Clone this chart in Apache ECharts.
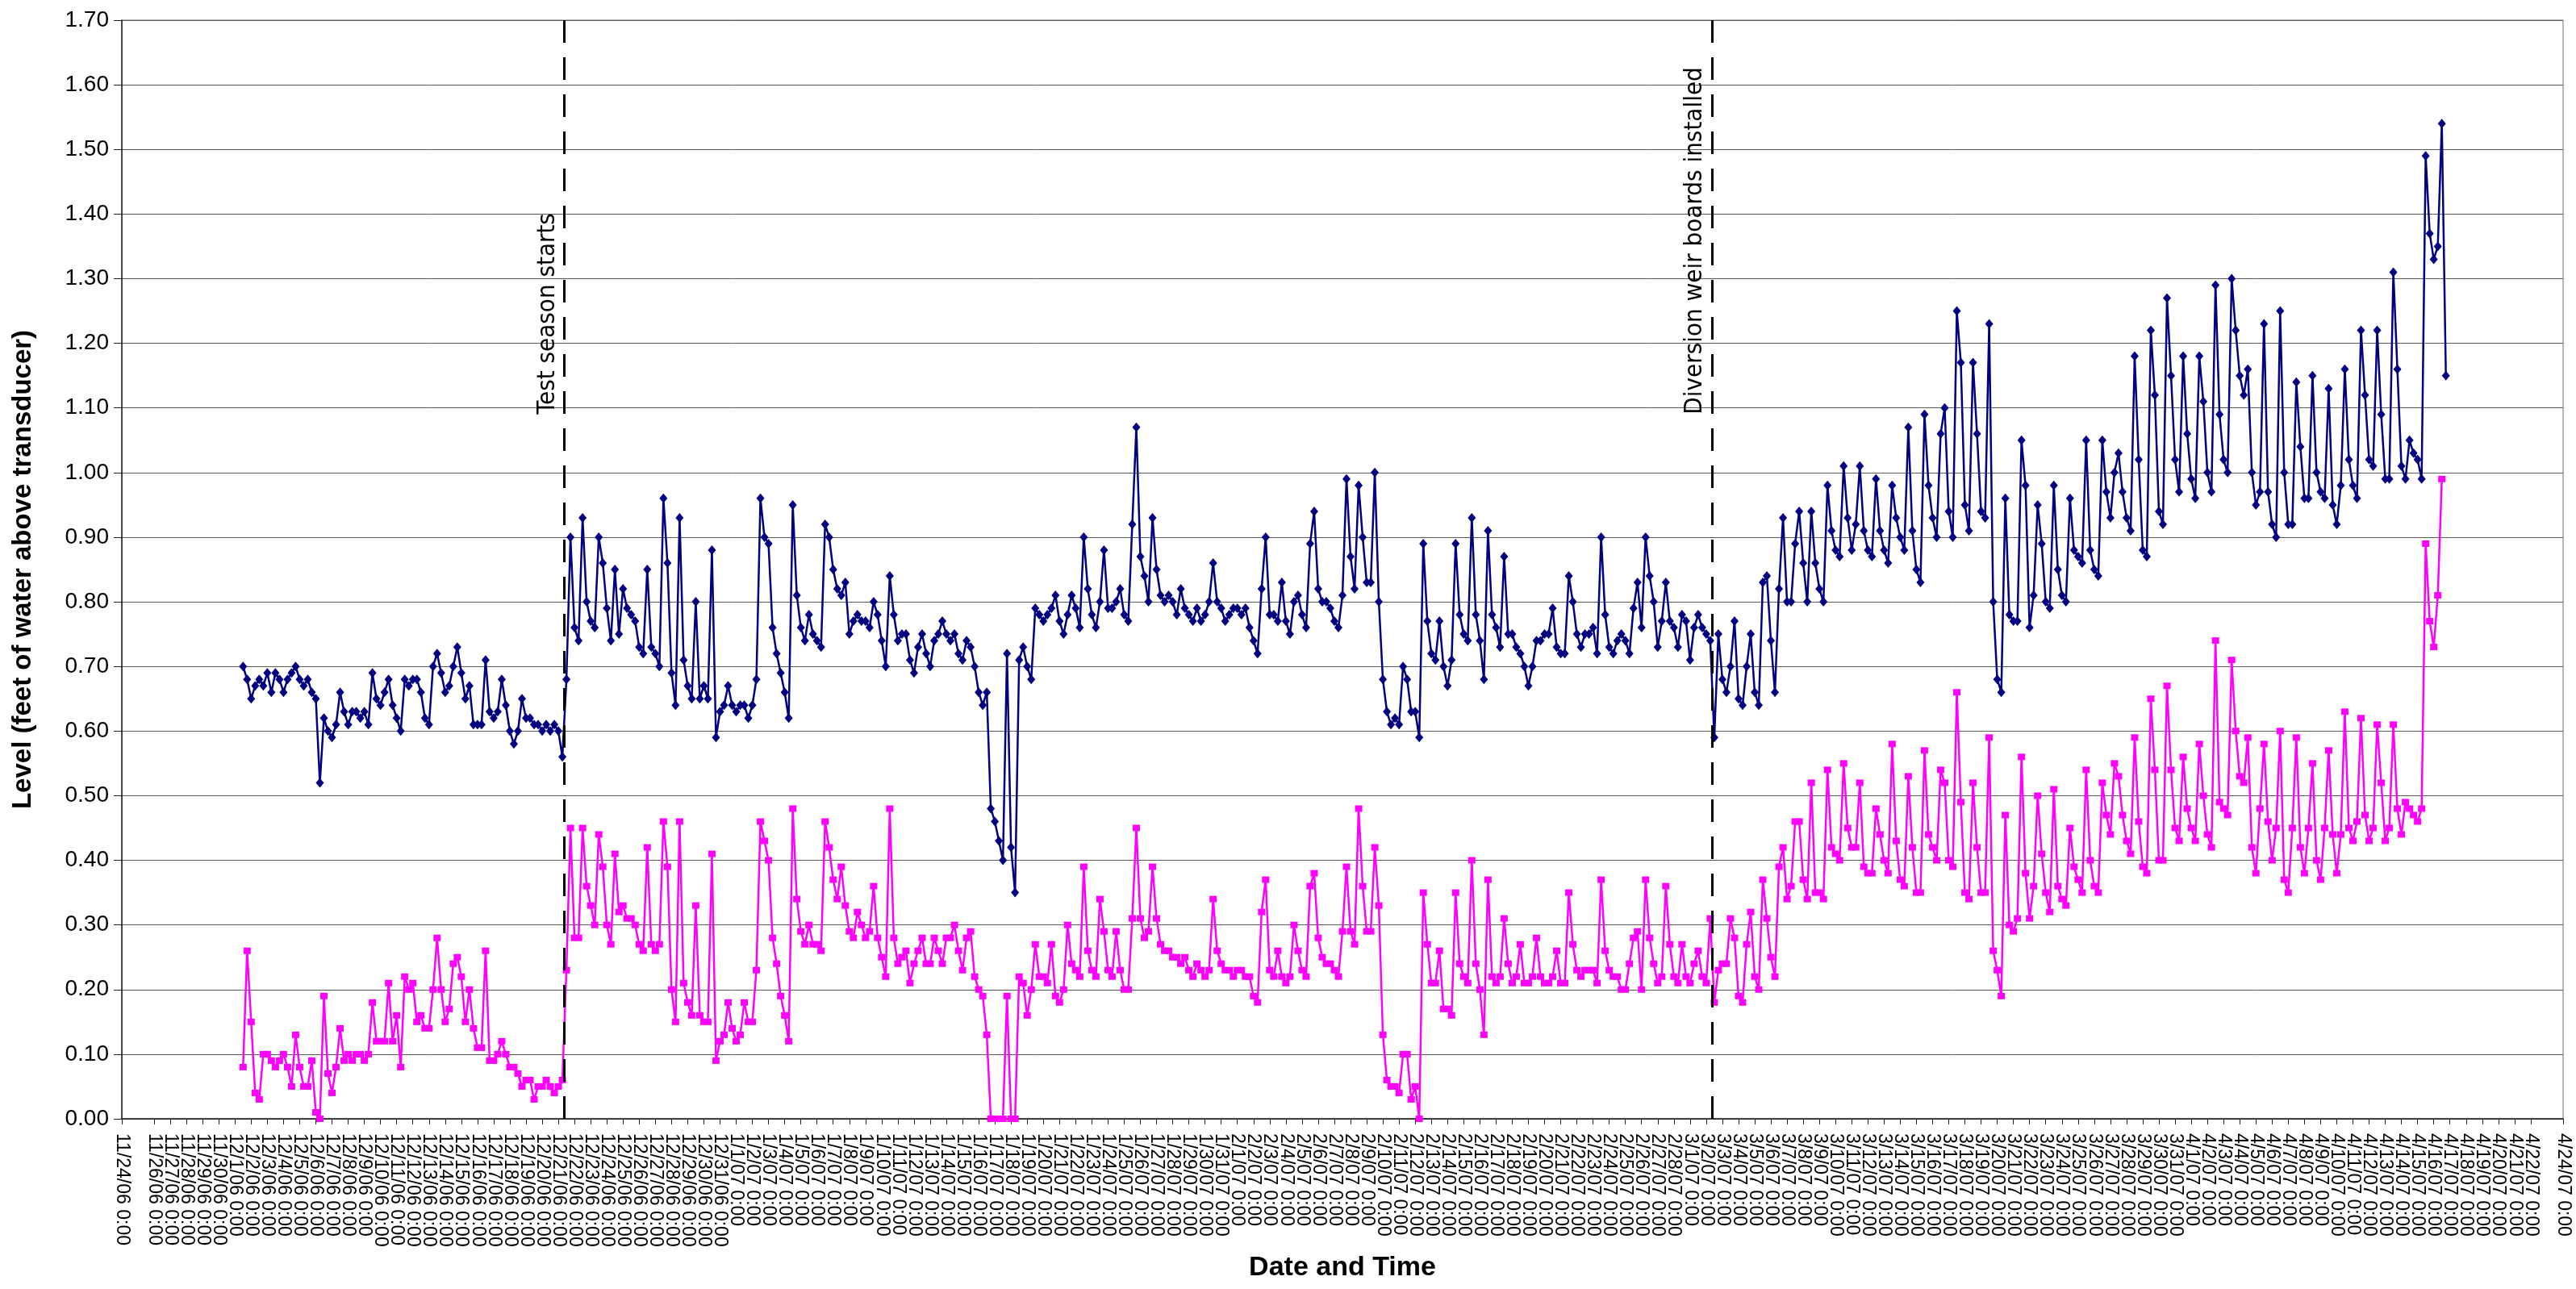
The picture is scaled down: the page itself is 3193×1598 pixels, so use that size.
<!DOCTYPE html>
<html>
<head>
<meta charset="utf-8">
<script src="https://cdn.jsdelivr.net/npm/echarts@6/dist/echarts.min.js"></script>
<style>
  html, body { margin: 0; padding: 0; background: #ffffff; }
  #chart { width: 3193px; height: 1598px; }
</style>
</head>
<body>
<div id="chart"></div>
<script>
// Time axis: one tick per day from 11/24/06 0:00 to 4/24/07 0:00
const axisStartDate = [2006, 10, 24];   // year, month (0-based), day
const axisDayCount = 151;

// Readings every 6 hours, first reading at 12/1/06 12:00 (day 7.5 of the axis)
const readingsStartDay = 7.5;
const readingStepDays = 0.25;

// Level, feet of water above transducer (navy series)
const upperLevel = [
  0.70,0.68,
  0.65,0.67,0.68,0.67, 0.69,0.66,0.69,0.68, 0.66,0.68,0.69,0.70, 0.68,0.67,0.68,0.66,
  0.65,0.52,0.62,0.60, 0.59,0.61,0.66,0.63, 0.61,0.63,0.63,0.62, 0.63,0.61,0.69,0.65,
  0.64,0.66,0.68,0.64, 0.62,0.60,0.68,0.67, 0.68,0.68,0.66,0.62, 0.61,0.70,0.72,0.69,
  0.66,0.67,0.70,0.73, 0.69,0.65,0.67,0.61, 0.61,0.61,0.71,0.63, 0.62,0.63,0.68,0.64,
  0.60,0.58,0.60,0.65, 0.62,0.62,0.61,0.61, 0.60,0.61,0.60,0.61, 0.60,0.56,0.68,0.90,
  0.76,0.74,0.93,0.80, 0.77,0.76,0.90,0.86, 0.79,0.74,0.85,0.75, 0.82,0.79,0.78,0.77,
  0.73,0.72,0.85,0.73, 0.72,0.70,0.96,0.86,
  0.69,0.64,0.93,0.71, 0.67,0.65,0.80,0.65, 0.67,0.65,0.88,0.59, 0.63,0.64,0.67,0.64,
  0.63,0.64,0.64,0.62, 0.64,0.68,0.96,0.90, 0.89,0.76,0.72,0.69, 0.66,0.62,0.95,0.81,
  0.76,0.74,0.78,0.75, 0.74,0.73,0.92,0.90, 0.85,0.82,0.81,0.83, 0.75,0.77,0.78,0.77,
  0.77,0.76,0.80,0.78, 0.74,0.70,0.84,0.78,
  0.74,0.75,0.75,0.71, 0.69,0.73,0.75,0.72, 0.70,0.74,0.75,0.77, 0.75,0.74,0.75,0.72,
  0.71,0.74,0.73,0.70, 0.66,0.64,0.66,0.48, 0.46,0.43,0.40,0.72, 0.42,0.35,0.71,0.73,
  0.70,0.68,0.79,0.78, 0.77,0.78,0.79,0.81, 0.77,0.75,0.78,0.81, 0.79,0.76,0.90,0.82,
  0.78,0.76,0.80,0.88, 0.79,0.79,0.80,0.82,
  0.78,0.77,0.92,1.07, 0.87,0.84,0.80,0.93, 0.85,0.81,0.80,0.81, 0.80,0.78,0.82,0.79,
  0.78,0.77,0.79,0.77, 0.78,0.80,0.86,0.80, 0.79,0.77,0.78,0.79, 0.79,0.78,0.79,0.76,
  0.74,0.72,0.82,0.90, 0.78,0.78,0.77,0.83, 0.77,0.75,0.80,0.81, 0.78,0.76,0.89,0.94,
  0.82,0.80,0.80,0.79, 0.77,0.76,0.81,0.99,
  0.87,0.82,0.98,0.90, 0.83,0.83,1.00,0.80, 0.68,0.63,0.61,0.62, 0.61,0.70,0.68,0.63,
  0.63,0.59,0.89,0.77, 0.72,0.71,0.77,0.70, 0.67,0.71,0.89,0.78, 0.75,0.74,0.93,0.78,
  0.74,0.68,0.91,0.78, 0.76,0.73,0.87,0.75, 0.75,0.73,0.72,0.70, 0.67,0.70,0.74,0.74,
  0.75,0.75,0.79,0.73, 0.72,0.72,0.84,0.80,
  0.75,0.73,0.75,0.75, 0.76,0.72,0.90,0.78, 0.73,0.72,0.74,0.75, 0.74,0.72,0.79,0.83,
  0.76,0.90,0.84,0.80, 0.73,0.77,0.83,0.77, 0.76,0.73,0.78,0.77, 0.71,0.76,0.78,0.76,
  0.75,0.74,0.59,0.75, 0.68,0.66,0.70,0.77, 0.65,0.64,0.70,0.75, 0.66,0.64,0.83,0.84,
  0.74,0.66,0.82,0.93, 0.80,0.80,0.89,0.94,
  0.86,0.80,0.94,0.86, 0.82,0.80,0.98,0.91, 0.88,0.87,1.01,0.93, 0.88,0.92,1.01,0.91,
  0.88,0.87,0.99,0.91, 0.88,0.86,0.98,0.93, 0.90,0.88,1.07,0.91, 0.85,0.83,1.09,0.98,
  0.93,0.90,1.06,1.10, 0.94,0.90,1.25,1.17, 0.95,0.91,1.17,1.06, 0.94,0.93,1.23,0.80,
  0.68,0.66,0.96,0.78, 0.77,0.77,1.05,0.98,
  0.76,0.81,0.95,0.89, 0.80,0.79,0.98,0.85, 0.81,0.80,0.96,0.88, 0.87,0.86,1.05,0.88,
  0.85,0.84,1.05,0.97, 0.93,1.00,1.03,0.97, 0.93,0.91,1.18,1.02, 0.88,0.87,1.22,1.12,
  0.94,0.92,1.27,1.15, 1.02,0.97,1.18,1.06, 0.99,0.96,1.18,1.11, 1.00,0.97,1.29,1.09,
  1.02,1.00,1.30,1.22, 1.15,1.12,1.16,1.00,
  0.95,0.97,1.23,0.97, 0.92,0.90,1.25,1.00, 0.92,0.92,1.14,1.04, 0.96,0.96,1.15,1.00,
  0.97,0.96,1.13,0.95, 0.92,0.98,1.16,1.02, 0.98,0.96,1.22,1.12, 1.02,1.01,1.22,1.09,
  0.99,0.99,1.31,1.16, 1.01,0.99,1.05,1.03, 1.02,0.99,1.49,1.37, 1.33,1.35,1.54,1.15
];

// Level, feet of water above transducer (magenta series)
const lowerLevel = [
  0.08,0.26,
  0.15,0.04,0.03,0.10, 0.10,0.09,0.08,0.09, 0.10,0.08,0.05,0.13, 0.08,0.05,0.05,0.09,
  0.01,0.00,0.19,0.07, 0.04,0.08,0.14,0.09, 0.10,0.09,0.10,0.10, 0.09,0.10,0.18,0.12,
  0.12,0.12,0.21,0.12, 0.16,0.08,0.22,0.20, 0.21,0.15,0.16,0.14, 0.14,0.20,0.28,0.20,
  0.15,0.17,0.24,0.25, 0.22,0.15,0.20,0.14, 0.11,0.11,0.26,0.09, 0.09,0.10,0.12,0.10,
  0.08,0.08,0.07,0.05, 0.06,0.06,0.03,0.05, 0.05,0.06,0.05,0.04, 0.05,0.06,0.23,0.45,
  0.28,0.28,0.45,0.36, 0.33,0.30,0.44,0.39, 0.30,0.27,0.41,0.32, 0.33,0.31,0.31,0.30,
  0.27,0.26,0.42,0.27, 0.26,0.27,0.46,0.39,
  0.20,0.15,0.46,0.21, 0.18,0.16,0.33,0.16, 0.15,0.15,0.41,0.09, 0.12,0.13,0.18,0.14,
  0.12,0.13,0.18,0.15, 0.15,0.23,0.46,0.43, 0.40,0.28,0.24,0.19, 0.16,0.12,0.48,0.34,
  0.29,0.27,0.30,0.27, 0.27,0.26,0.46,0.42, 0.37,0.34,0.39,0.33, 0.29,0.28,0.32,0.30,
  0.28,0.29,0.36,0.28, 0.25,0.22,0.48,0.28,
  0.24,0.25,0.26,0.21, 0.24,0.26,0.28,0.24, 0.24,0.28,0.26,0.24, 0.28,0.28,0.30,0.26,
  0.23,0.28,0.29,0.22, 0.20,0.19,0.13,0.00, 0.00,0.00,0.00,0.19, 0.00,0.00,0.22,0.21,
  0.16,0.20,0.27,0.22, 0.22,0.21,0.27,0.19, 0.18,0.20,0.30,0.24, 0.23,0.22,0.39,0.26,
  0.23,0.22,0.34,0.29, 0.23,0.22,0.29,0.23,
  0.20,0.20,0.31,0.45, 0.31,0.28,0.29,0.39, 0.31,0.27,0.26,0.26, 0.25,0.25,0.24,0.25,
  0.23,0.22,0.24,0.23, 0.22,0.23,0.34,0.26, 0.24,0.23,0.23,0.22, 0.23,0.23,0.22,0.22,
  0.19,0.18,0.32,0.37, 0.23,0.22,0.26,0.22, 0.21,0.22,0.30,0.26, 0.23,0.22,0.36,0.38,
  0.28,0.25,0.24,0.24, 0.23,0.22,0.29,0.39,
  0.29,0.27,0.48,0.36, 0.29,0.29,0.42,0.33, 0.13,0.06,0.05,0.05, 0.04,0.10,0.10,0.03,
  0.05,0.00,0.35,0.27, 0.21,0.21,0.26,0.17, 0.17,0.16,0.35,0.24, 0.22,0.21,0.40,0.24,
  0.20,0.13,0.37,0.22, 0.21,0.22,0.31,0.24, 0.21,0.22,0.27,0.21, 0.21,0.22,0.28,0.22,
  0.21,0.21,0.22,0.26, 0.21,0.21,0.35,0.27,
  0.23,0.22,0.23,0.23, 0.23,0.21,0.37,0.26, 0.23,0.22,0.22,0.20, 0.20,0.24,0.28,0.29,
  0.20,0.37,0.28,0.24, 0.21,0.22,0.36,0.27, 0.22,0.21,0.27,0.22, 0.21,0.24,0.26,0.22,
  0.21,0.31,0.18,0.23, 0.24,0.24,0.31,0.28, 0.19,0.18,0.27,0.32, 0.22,0.20,0.37,0.31,
  0.25,0.22,0.39,0.42, 0.34,0.36,0.46,0.46,
  0.37,0.34,0.52,0.35, 0.35,0.34,0.54,0.42, 0.41,0.40,0.55,0.45, 0.42,0.42,0.52,0.39,
  0.38,0.38,0.48,0.44, 0.40,0.38,0.58,0.43, 0.37,0.36,0.53,0.42, 0.35,0.35,0.57,0.44,
  0.42,0.40,0.54,0.52, 0.40,0.39,0.66,0.49, 0.35,0.34,0.52,0.42, 0.35,0.35,0.59,0.26,
  0.23,0.19,0.47,0.30, 0.29,0.31,0.56,0.38,
  0.31,0.36,0.50,0.41, 0.35,0.32,0.51,0.36, 0.34,0.33,0.45,0.39, 0.37,0.35,0.54,0.40,
  0.36,0.35,0.52,0.47, 0.44,0.55,0.53,0.47, 0.43,0.41,0.59,0.46, 0.39,0.38,0.65,0.54,
  0.40,0.40,0.67,0.54, 0.45,0.43,0.56,0.48, 0.45,0.43,0.58,0.50, 0.44,0.42,0.74,0.49,
  0.48,0.47,0.71,0.60, 0.53,0.52,0.59,0.42,
  0.38,0.48,0.58,0.46, 0.40,0.45,0.60,0.37, 0.35,0.45,0.59,0.42, 0.38,0.45,0.55,0.40,
  0.37,0.45,0.57,0.44, 0.38,0.44,0.63,0.45, 0.43,0.46,0.62,0.47, 0.43,0.45,0.61,0.52,
  0.43,0.45,0.61,0.48, 0.44,0.49,0.48,0.47, 0.46,0.48,0.89,0.77, 0.73,0.81,0.99
];

// Events marked with dashed vertical lines (day on the time axis)
const eventDays = [27.35, 98.35];
const eventTexts = ['Test season starts', 'Diversion weir boards installed'];

// Level axis range and step
const levelMin = 0;
const levelMax = 1.7;
const levelStep = 0.1;

// Daily tick labels, "m/d/yy 0:00"
function buildDayLabels(start, count) {
  const labels = [];
  for (let i = 0; i <= count; i++) {
    const d = new Date(Date.UTC(start[0], start[1], start[2] + i));
    const yy = String(d.getUTCFullYear() % 100).padStart(2, '0');
    labels.push((d.getUTCMonth() + 1) + '/' + d.getUTCDate() + '/' + yy + ' 0:00');
  }
  return labels;
}
const dayLabels = buildDayLabels(axisStartDate, axisDayCount);

function toPoints(values, startDay, step) {
  return values.map((v, i) => [startDay + i * step, v]);
}

const FONT = "'Liberation Sans', Arial, sans-serif";
const NOTE_FONT = "'Liberation Sans Narrow', 'Arial Narrow', 'DejaVu Sans Condensed', sans-serif";

const chart = echarts.init(document.getElementById('chart'), null, { renderer: 'canvas' });

chart.setOption({
  animation: false,
  backgroundColor: '#ffffff',
  grid: {
    left: 151, right: 16, top: 25, bottom: 211,
    show: true, borderColor: '#6e6e6e', borderWidth: 1
  },
  xAxis: {
    type: 'value',
    min: 0,
    max: axisDayCount,
    interval: 1,
    name: 'Date and Time',
    nameLocation: 'middle',
    nameGap: 168,
    nameTextStyle: { fontFamily: FONT, fontSize: 34, fontWeight: 'bold', color: '#000' },
    axisLine: { show: true, onZero: false, lineStyle: { color: '#222', width: 1.5 } },
    axisTick: { show: true, inside: false, length: 7, lineStyle: { color: '#222', width: 1 } },
    axisLabel: {
      show: true,
      rotate: -90,
      margin: 18,
      fontFamily: FONT,
      fontSize: 23,
      color: '#000',
      hideOverlap: false,
      showMinLabel: true,
      showMaxLabel: true,
      formatter: (v) => dayLabels[Math.round(v)] || ''
    },
    splitLine: { show: false }
  },
  yAxis: {
    type: 'value',
    min: levelMin,
    max: levelMax,
    interval: levelStep,
    name: 'Level (feet of water above transducer)',
    nameLocation: 'middle',
    nameGap: 106,
    nameTextStyle: { fontFamily: FONT, fontSize: 33, fontWeight: 'bold', color: '#000' },
    axisLine: { show: true, lineStyle: { color: '#222', width: 1.5 } },
    axisTick: { show: true, inside: false, length: 10, lineStyle: { color: '#222', width: 1 } },
    axisLabel: {
      margin: 16,
      fontFamily: FONT,
      fontSize: 28,
      color: '#000',
      formatter: (v) => v.toFixed(2)
    },
    splitLine: { show: true, lineStyle: { color: '#5c5c5c', width: 1 } }
  },
  series: [
    {
      name: 'Transducer 1',
      type: 'line',
      data: toPoints(upperLevel, readingsStartDay, readingStepDays),
      symbol: 'diamond',
      symbolSize: [10, 12],
      showSymbol: true,
      sampling: null,
      lineStyle: { color: '#000080', width: 2.5 },
      itemStyle: { color: '#000080' },
      z: 3,
      markLine: {
        silent: true,
        symbol: ['none', 'none'],
        label: { show: false },
        lineStyle: { color: '#000000', width: 3, type: [28, 18] },
        data: eventDays.map((d) => ({ xAxis: d }))
      }
    },
    {
      name: 'Transducer 2',
      type: 'line',
      data: toPoints(lowerLevel, readingsStartDay, readingStepDays),
      symbol: 'rect',
      symbolSize: [9, 8],
      showSymbol: true,
      sampling: null,
      lineStyle: { color: '#ff00ff', width: 2.5 },
      itemStyle: { color: '#ff00ff' },
      z: 4
    }
  ]
});

// Event captions, rotated to run up alongside each dashed line
const captionStartLevel = 1.09;
const captionY = chart.convertToPixel({ yAxisIndex: 0 }, captionStartLevel);
chart.setOption({
  graphic: eventDays.map((d, i) => ({
    type: 'text',
    x: chart.convertToPixel({ xAxisIndex: 0 }, d) - 5,
    y: captionY,
    rotation: Math.PI / 2,
    z: 10,
    style: {
      text: eventTexts[i],
      fontFamily: NOTE_FONT,
      fontSize: 31,
      fill: '#000000',
      align: 'left',
      textAlign: 'left',
      verticalAlign: 'bottom',
      textVerticalAlign: 'bottom'
    }
  }))
});
</script>
</body>
</html>
